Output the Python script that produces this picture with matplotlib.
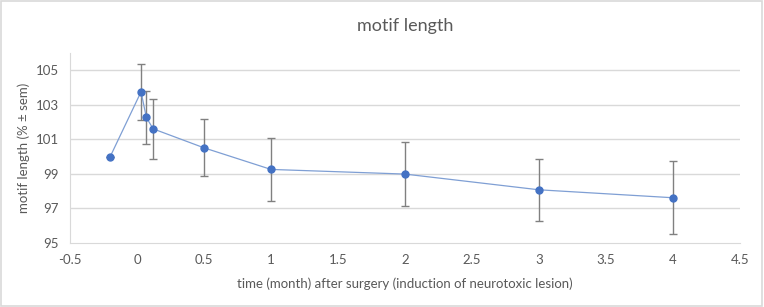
import matplotlib.pyplot as plt

# data
months = [-0.2, 0.03, 0.07, 0.12, 0.5, 1, 2, 3, 4]
motif_len = [100.0, 103.75, 102.27, 101.61, 100.51, 99.26, 98.99, 98.08, 97.62]
sem = [0, 1.62, 1.55, 1.73, 1.65, 1.81, 1.85, 1.8, 2.1]
yticks = [95, 97, 99, 101, 103, 105]
xticks = [-0.5, 0, 0.5, 1, 1.5, 2, 2.5, 3, 3.5, 4, 4.5]

plt.rcParams['font.family'] = ['Lato', 'DejaVu Sans']

fig = plt.figure(figsize=(7.64, 3.07), dpi=100)
ax = fig.add_axes([70/764, 1-243/307, 670/764, 190/307])

# frame round the whole chart
fig.patches.append(plt.Rectangle((0.001, 0.002), 0.997, 0.995, transform=fig.transFigure,
                                 fill=False, edgecolor='#d9d9d9', linewidth=1.2))

ax.errorbar(months, motif_len, yerr=sem, fmt='none', ecolor='#808080',
            elinewidth=1, capsize=3, capthick=1, zorder=2)
ax.plot(months, motif_len, color='#7f9fd4', linewidth=0.9, zorder=3)
ax.plot(months, motif_len, 'o', color='#4472c4', markersize=5, zorder=4)

ax.set_xlim(-0.5, 4.5)
ax.set_ylim(95, 106)
ax.set_xticks(xticks)
ax.set_xticklabels([f'{t:g}' for t in xticks])
ax.set_yticks(yticks)
for y in yticks[1:]:
    ax.axhline(y, color='#d9d9d9', linewidth=1, zorder=0)

for s in ['top', 'right']:
    ax.spines[s].set_visible(False)
ax.spines['left'].set_color('#d9d9d9')
ax.spines['bottom'].set_color('#d9d9d9')
ax.tick_params(length=0, labelsize=9.5, colors='#595959', pad=8)

ax.set_title('motif length', fontsize=13, color='#595959', pad=16)
ax.set_xlabel('time (month) after surgery (induction of neurotoxic lesion)',
              fontsize=9.5, color='#595959', labelpad=8)
ax.set_ylabel('motif length (% ± sem)', fontsize=9.5, color='#595959', labelpad=4)

fig.savefig('out.png', dpi=100)
